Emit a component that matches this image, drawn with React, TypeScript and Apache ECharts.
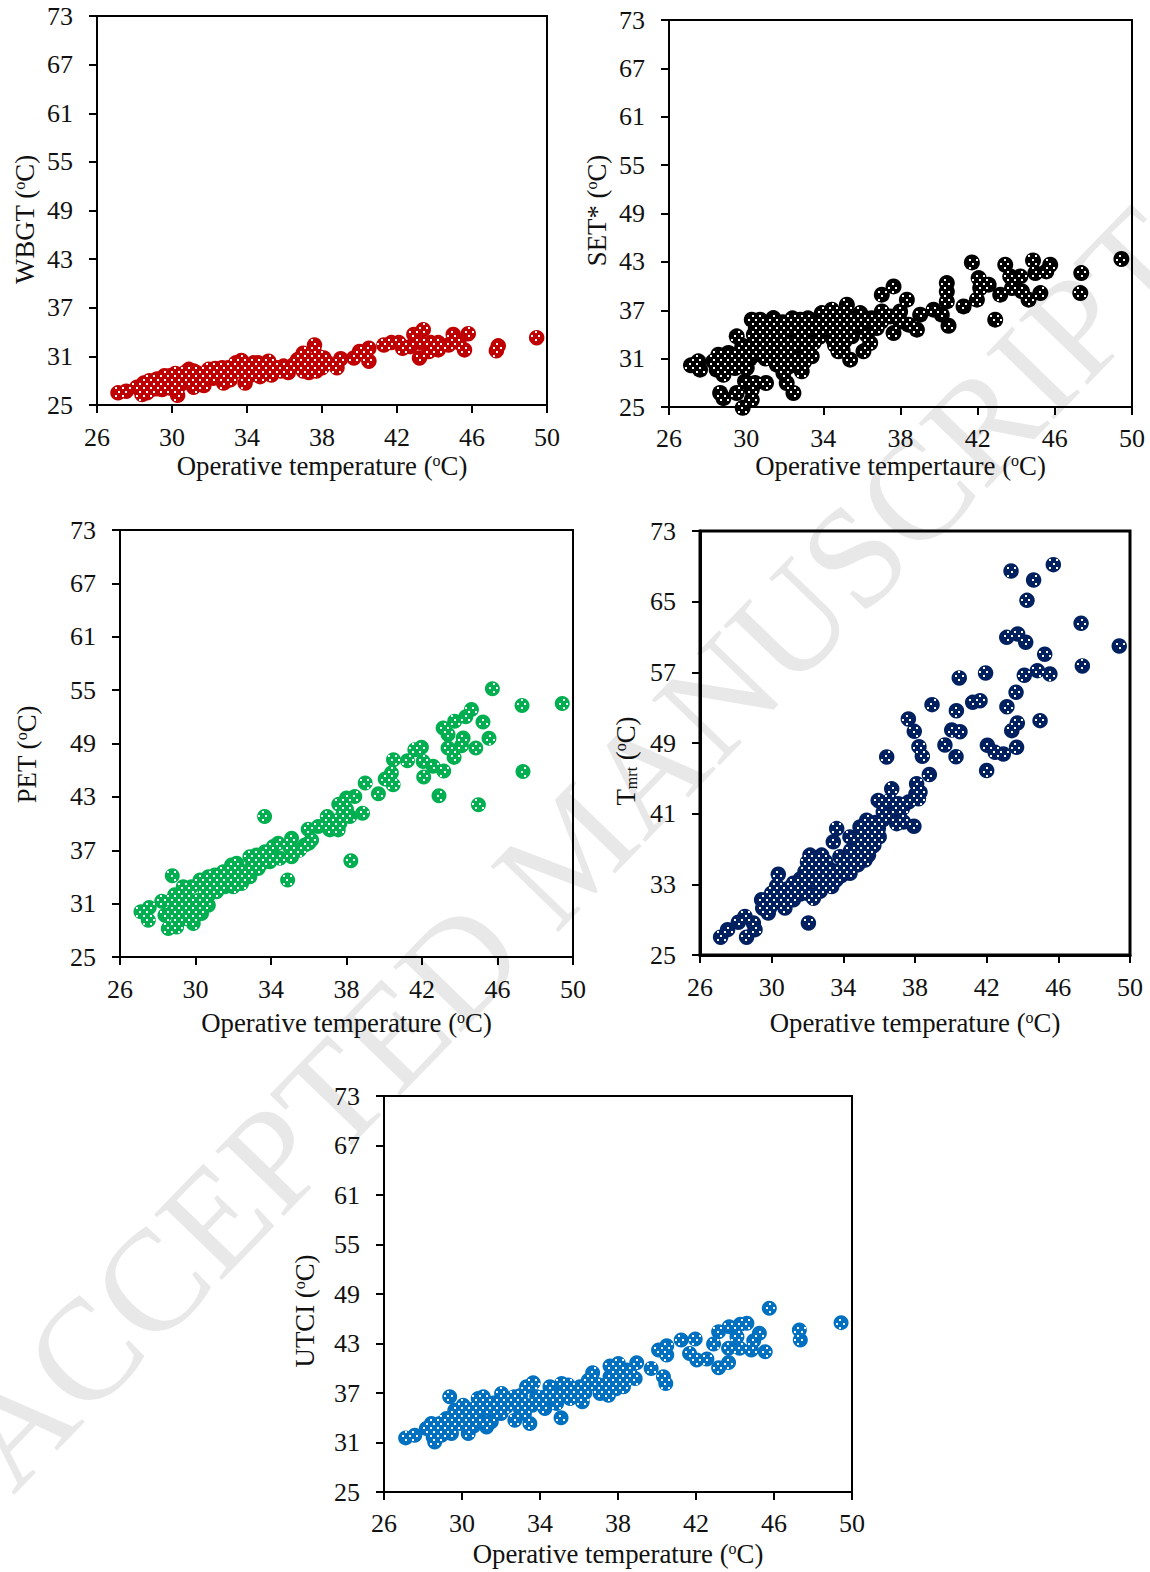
import React, { useEffect, useRef } from "react";
import * as echarts from "echarts";

const xTicks = [26, 30, 34, 38, 42, 46, 50];
const yTicks = [25, 31, 37, 43, 49, 55, 61, 67, 73];
const tmrtTicks = [25, 33, 41, 49, 57, 65, 73];
const xTitle = "{a|Operative temperature (}{s|o}{a|C)}";
const xTitle2 = "{a|Operative tempertaure (}{s|o}{a|C)}";

const wbgtPoints = [
  [27.12,26.5],[27.56,26.7],[28.13,27.2],[28.49,27.7],[28.4,26.3],[28.76,27.5],[28.67,26.5],[29.1,27.7],[29.47,26.9],[29.6,28.6],
  [30,28.1],[30.3,26.2],[30.18,28.9],[29.9,27.1],[30.5,28.5],[30.9,29.4],[31.15,29.2],[30.8,28.1],[31.15,27.2],[31.7,27.4],
  [31.5,28.7],[31.95,29.4],[32.3,29.5],[32.67,29.6],[32.75,27.7],[32.2,28.3],[33.1,28.1],[33,28.7],[33.4,30.2],[33.7,30.5],
  [33.5,29.2],[33.9,27.7],[34.35,30.2],[34.2,28.7],[34.7,28.5],[34.9,29.4],[35.15,30.4],[35.3,29.8],[35.3,28.7],[35.95,29.8],
  [36.2,29],[35.8,29.2],[36.5,30],[36.7,30.6],[37,31.4],[37,29.2],[37.3,29],[37.1,30],[37.6,32.4],[37.8,31],
  [37.7,29.2],[38.1,30.8],[38.3,30.2],[38.8,29.6],[39,30.7],[39.7,30.8],[40,31.6],[40.5,32],[40.5,30.4],[41.3,32.4],
  [41.7,32.7],[42.1,32.7],[42.3,32],[42.7,32.2],[42.9,33.7],[43.4,34.3],[43.2,30.8],[43.25,32.7],[43.7,31.6],[43.8,32.7],
  [44.2,32.7],[44.2,31.8],[44.75,32.4],[45,33.7],[45.3,32.7],[45.6,31.8],[45.8,33.8],[47.4,32.3],[47.3,31.7],[49.45,33.3],
  [29.2,27],[29.4,28],[30.4,27.4],[30.6,27.8],[31,28.6],[31.3,28],[31.8,28.3],[32,28.8],[32.5,28.4],[32.4,29],
  [33.2,29.6],[33.9,29.8],[34,29],[34.5,29.4],[35,29],[35.6,29.6],[36,29.4],[30.2,28],[28.6,27],[28.9,26.9],
  [29.7,27.4],[37.5,29.8],[38,29.6],[37.4,30.4],
  [30.7,29],[31.3,29],[32,29.3],[33,29.6],[34.6,30.2],[36.3,29.6],[29.9,28.6],[28.8,28],[29.2,28.2],
];

const setPoints = [
  [27.14,30.17],[27.52,30.66],[27.61,29.63],[28.3,30.66],[28.56,31.49],[28.47,29.63],[28.82,29],[28.65,26.74],[28.82,26.1],[29.08,31.7],
  [29.51,33.76],[29.42,31.49],[29.42,29.83],[29.51,26.74],[30.03,29.83],[29.94,28.18],[30.29,35.83],[30.2,32.52],[30.46,27.98],[30.72,35.83],
  [30.81,33.35],[30.29,27.15],[30.29,25.9],[29.82,24.9],[31.03,27.98],[31.41,36.03],[31.33,33.55],[30.72,31.49],[31.59,30.25],[31.93,29.21],
  [32.1,27.98],[32.28,35.62],[32.02,31.9],[32.45,26.74],[32.88,29.42],[32.8,35.83],[32.62,33.35],[32.62,30.87],[33.31,35.83],[33.4,31.28],
  [33.14,33.35],[33.92,36.65],[34.44,37.07],[34,34.59],[34.52,33.35],[34.78,31.9],[35.22,37.69],[35.39,30.87],[35.48,33.76],[35.04,35.41],
  [36.08,31.9],[36.43,32.93],[35.91,36.65],[36.25,33.97],[36.77,34.79],[37.03,38.93],[37.64,39.96],[37.03,36.86],[37.64,34.17],[37.46,36.24],
  [38.33,38.31],[37.98,36.86],[38.85,34.59],[38.42,35.21],[39.02,36.45],[39.71,37.07],[40.14,36.45],[40.4,40.37],[40.4,39.34],[40.4,38.1],
  [40.49,35.08],[41.27,37.48],[41.7,42.93],[41.96,38.31],[42.05,40.99],[42.13,39.75],[42.57,40.17],[42.91,35.83],[43.17,38.93],[43.43,42.64],
  [43.69,41.2],[44.21,41.2],[43.78,39.75],[44.3,39.34],[44.64,38.31],[44.87,43.18],[44.99,41.61],[45.25,39.13],[45.56,41.82],[45.76,42.64],
  [47.32,39.13],[47.37,41.61],[49.45,43.35],
  [30.4,34],[31,34.5],[31.5,35],[31,32.5],[31.5,32],[32,33],[32,34.5],[32.5,34.8],[33,34.5],[33,32],
  [32.8,31],[33.6,34.5],[33.8,35.5],[34.5,35.5],[34.5,36],[34.8,34],[35.5,36],[36,35],[36.5,36],[37,35.6],
  [38,35.6],[35.1,33.2],[34.6,32.7],[31.4,31],[31.8,31.2],[29.8,30.2],[28.9,30.7],[29.2,30.3],
  [29.8,32],[30.2,31],[30.6,32.5],[29.9,30.8],[31,31],[31.6,33],[32.3,32.4],[33.5,33],[33.8,33.7],[34.3,34.5],
  [35.4,34.8],[35.7,35.4],[36.2,36],[36.7,35.5],[35,36.5],[34,35.8],[33.2,36],[32.4,36],[31.9,35.5],[30.9,35.2],
  [30.5,34.8],[30.4,33],[29.8,32.6],[32.2,30],[32.8,30.1],[33,30.6],[34.9,32.6],[35,32],
];

const petPoints = [
  [27.11,30.08],[27.55,30.56],[27.5,29.14],[28.21,31.28],[28.38,29.7],[28.56,28.2],[29,28.38],[28.77,34.14],[28.74,31.39],[28.82,30.08],
  [29.35,32.89],[29.26,31.02],[29.44,29.32],[29.88,28.76],[29.79,32.89],[30.24,33.65],[30.15,31.39],[30.32,29.89],[30.68,34.02],[30.68,30.83],
  [31.03,34.21],[31.12,32.33],[31.47,34.59],[31.56,32.89],[31.91,35.34],[32,32.89],[32.18,35.53],[32.44,33.27],[32.88,36.28],[32.88,34.02],
  [33.32,34.96],[33.23,36.47],[33.68,36.84],[33.94,35.71],[33.66,40.79],[34.12,37.41],[34.38,37.78],[34.47,36.09],[34.88,33.65],[35.09,38.35],
  [35.09,36.28],[35.79,37.59],[35.97,39.36],[36.15,38.16],[36.5,39.66],[36.98,40.79],[37.12,39.29],[37.56,39.29],[37.59,42.18],[37.65,40.04],
  [38,42.86],[38.18,40.79],[38.44,43.05],[38.23,35.83],[38.85,41.17],[38.99,44.55],[39.69,43.35],[40.05,45],[40.38,45.68],[40.47,44.36],
  [40.49,47.18],[41.23,47.07],[41.62,48.31],[41.97,48.57],[42.09,45.23],[42.06,46.99],[42.59,46.43],[42.9,43.12],[43.15,45.9],[43.12,50.75],
  [43.38,48.5],[43.38,50],[43.7,47.44],[43.73,51.5],[44.09,48.76],[44.18,49.62],[44.32,52],[44.62,52.82],[44.85,48.5],[44.99,42.11],
  [45.23,51.43],[45.55,49.59],[45.73,55.15],[47.3,53.27],[47.35,45.86],[49.43,53.5],
  [29.7,30.5],[30,30.8],[30.5,32.5],[29.6,31.5],[29.2,30],[31.5,33.6],[32,34.2],[32.5,34.6],[33,35.2],[33.5,35.5],
  [34,36.6],[35,37.3],[35.5,37],[36,37.8],[37.3,40.3],[37.8,41],[38,41.6],[30.9,33.2],
  [28.9,32],[29.3,32],[30.3,31],[30.7,32],[29.1,29],[29.5,30.3],[30,29.6],[30.6,31.5],
];

const tmrtPoints = [
  [43.36,68.47],[44.62,67.45],[45.72,69.19],[44.25,65.15],[47.27,62.55],[43.12,60.96],[43.73,61.34],[44.18,60.4],[45.24,59.04],[49.4,59.98],
  [47.34,57.72],[44.83,57.19],[45.53,56.81],[44.1,56.66],[41.94,56.92],[40.47,56.36],[43.64,54.74],[41.63,53.79],[41.22,53.6],[43.13,53.11],
  [38.95,53.34],[40.31,52.66],[37.63,51.72],[43.71,51.26],[44.98,51.53],[43.4,50.4],[37.96,50.32],[40.05,50.47],[40.51,50.28],[38.22,48.58],
  [39.67,48.77],[42.04,48.74],[43.67,48.51],[42.47,47.94],[42.93,47.75],[36.42,47.42],[38.41,47.49],[40.29,47.45],
  [27.15,27.01],[27.54,27.87],[28.6,27.01],[29.07,27.87],[28.14,28.7],[28.51,29.37],[28.98,28.62],[32.05,28.62],[29.44,31.25],[29.81,29.75],
  [30.37,34.14],[30.28,32.82],[30.09,30.87],[30.74,30.31],[31.21,33.12],[31.21,31.25],[31.86,34.44],[32.14,36.31],[32.79,36.31],[32.33,31.43],
  [33.44,37.81],[33.63,39.31],[33.35,32.75],[34.37,34.25],[33.81,36.12],[34.37,38.37],[35.21,35.75],[35.49,37.06],[35.3,40.25],[34.93,39.5],
  [36,38.37],[35.95,39.31],[35.95,42.5],[36.23,41.19],[36.7,43.81],[36.6,42.5],[36.98,39.87],[37.35,40.06],[37.94,39.57],[37.07,42.13],
  [37.63,42.31],[38.09,44.38],[38.28,43.44],[38.19,42.69],[38.8,45.43],[42,45.88],
  [30.6,32],[30.9,32.5],[31.5,32.5],[31.8,33],[32.3,33.5],[32.6,34.5],[32.9,33.5],[33.1,35],[33.5,34.5],[33.9,34],
  [34.2,36],[34.7,37],[34.8,35.2],[35,36.5],[35.3,38],[35.6,38.8],[32.3,35.2],[31.6,31.9],[30,32],[29.6,30.6],[33,33],
  [31,32],[31.6,33.6],[32,32],[32.4,34.7],[32.7,32.2],[33,35.6],[33.2,34],[33.6,33.5],[34.1,35],[34.4,36.8],
  [34.6,35.8],[35,38],[35.1,37.3],[35.4,36.3],[35.7,37.4],[34.9,38.6],[35.2,39.2],[35.8,40],[36.2,40.3],[36.5,40.7],
  [37.3,41.6],[38.05,43.2],[37,41.5],[29.9,30.4],[30.4,31.6],[29.5,30.3],[31.1,31.9],[31.8,33.8],[32,35.5],[32.5,35.5],
];

const utciPoints = [
  [27.11,31.56],[27.58,31.88],[28.17,32.69],[28.6,31.07],[28.43,33.3],[28.52,31.68],[28.86,33.3],[28.95,31.88],[29.37,36.54],[29.2,33.91],
  [29.46,32.09],[29.63,34.92],[30.06,35.53],[29.89,33.3],[30.32,32.09],[30.23,34.51],[30.83,36.34],[31.09,36.54],[30.74,33.7],[31.26,32.89],
  [31.34,35.12],[32.03,36.94],[31.77,34.51],[32.71,33.7],[32.68,36.54],[32.28,35.32],[33.48,33.3],[33.31,37.75],[33.65,38.24],[33.14,35.73],
  [33.83,36.54],[34.25,35.12],[34.51,37.75],[34.85,35.73],[35.11,38.16],[35.08,33.99],[35.45,37.96],[35.54,36.34],[36.05,37.75],[36.17,35.93],
  [36.7,39.45],[36.48,38.56],[37.08,36.94],[37.51,36.74],[37.59,40.26],[38.02,40.59],[38.28,37.75],[38.45,39.78],[37.59,38.97],[38.88,38.77],
  [38.96,40.67],[39.7,39.98],[40.33,38.97],[40.45,38.16],[40.08,42.21],[40.5,42.73],[40.5,41.6],[41.24,43.42],[41.96,43.54],[41.67,41.8],
  [42.04,41],[42.56,41.11],[42.9,42.94],[43.16,40.06],[43.67,40.71],[43.16,44.43],[43.7,45.04],[43.67,42.41],[44.24,42.41],[44.1,43.83],
  [44.27,45.32],[44.61,45.45],[44.84,42.21],[44.96,43.34],[45.25,44.23],[45.55,42],[45.76,47.27],[47.3,44.64],[47.35,43.42],[49.44,45.53],
  [29,33],[29.3,33],[29.8,34.3],[30.5,35],[31,35],[31.6,35.8],[32,34.5],[32.5,36],[33,36.7],[33.2,34.5],
  [33.6,35.5],[34,36],[34.7,37],[35,36.8],[36.8,38.1],[37.8,38.6],[37.9,37.5],[38.4,38.5],[30.6,33],[31,33.5],
  [35.8,37],[34.2,36.5],
  [28.7,32.5],[29.4,33.5],[30.2,33.5],[30,34.5],[31.5,33.5],[32,35.8],[33,35],[34.5,36.5],[35.5,37],[36.3,37],
  [37,38],[37.4,38],[38,39],[38.6,39.5],
];

const FONT = "Liberation Serif";
const FS = 26;
const NAME_FS = 26.8;

const panels = [
  { pts: wbgtPoints, color: "#C00000", size: 15.5, ticks: yTicks, xName: xTitle, yName: "{a|WBGT (}{s|o}{a|C)}", left: 97, top: 16, right: 547, bottom: 405, gapX: 47, gapY: 59, shiftY: 18, marginX: 19, border: 2 },
  { pts: setPoints, color: "#000000", size: 16, ticks: yTicks, xName: xTitle2, yName: "{a|SET* (}{s|o}{a|C)}", left: 669, top: 20, right: 1132, bottom: 407, gapX: 45, gapY: 59, shiftY: -6, marginX: 18, border: 2 },
  { pts: petPoints, color: "#00B050", size: 15, ticks: yTicks, xName: xTitle, yName: "{a|PET (}{s|o}{a|C)}", left: 120, top: 530, right: 573, bottom: 957, gapX: 52, gapY: 80, shiftY: 22, marginX: 19, border: 2 },
  { pts: tmrtPoints, color: "#002060", size: 15.5, ticks: tmrtTicks, xName: xTitle, yName: "{a|T}{u|mrt}{a| (}{s|o}{a|C)}", left: 700, top: 531, right: 1130, bottom: 955, gapX: 54, gapY: 61, shiftY: 36, marginX: 19, border: 3 },
  { pts: utciPoints, color: "#0070C0", size: 15, ticks: yTicks, xName: xTitle, yName: "{a|UTCI (}{s|o}{a|C)}", left: 384, top: 1096, right: 852, bottom: 1492, gapX: 48.5, gapY: 66, shiftY: 34, marginX: 18, border: 2 },
];

const DOT_DX = 7;
const DOT_DY = 4;
const DOT_R = 6;

function dotsRenderer() {
  const owner = new Map<string, number>();
  return (params: any, api: any) => {
    const c = api.coord([api.value(0), api.value(1)]);
    const children: any[] = [];
    const j0 = Math.ceil((c[1] - DOT_R) / DOT_DY);
    const j1 = Math.floor((c[1] + DOT_R) / DOT_DY);
    for (let j = j0; j <= j1; j++) {
      const off = j % 2 === 0 ? 0 : 3.5;
      const i0 = Math.ceil((c[0] - DOT_R - off) / DOT_DX);
      const i1 = Math.floor((c[0] + DOT_R - off) / DOT_DX);
      for (let i = i0; i <= i1; i++) {
        const px = Math.round(i * DOT_DX + off);
        const py = j * DOT_DY;
        if ((px - c[0]) ** 2 + (py - c[1]) ** 2 > DOT_R * DOT_R) continue;
        const key = px + "," + py;
        const o = owner.get(key);
        if (o !== undefined && o !== params.dataIndex) continue;
        owner.set(key, params.dataIndex);
        children.push({
          type: "rect",
          shape: { x: px - 1, y: py - 1, width: 2, height: 2 },
          style: { fill: "#ffffff" },
          silent: true,
        });
      }
    }
    return { type: "group", children };
  };
}

const rich = {
  a: { fontFamily: FONT, fontSize: NAME_FS, color: "#111" },
  s: { fontFamily: FONT, fontSize: 16, color: "#111", verticalAlign: "top", lineHeight: 22 },
  u: { fontFamily: FONT, fontSize: 16, color: "#111", verticalAlign: "bottom", lineHeight: 26 },
};

function buildOption() {
  const grid: any[] = [];
  const xAxis: any[] = [];
  const yAxis: any[] = [];
  const series: any[] = [];
  panels.forEach((p, i) => {
    grid.push({
      left: p.left, top: p.top, width: p.right - p.left, height: p.bottom - p.top,
      show: true, borderColor: "#000", borderWidth: p.border, backgroundColor: "transparent",
      containLabel: false, z: 2,
    });
    const line = { show: true, onZero: false, lineStyle: { color: "#000", width: p.border } };
    const tick = { show: true, length: 8, inside: false, lineStyle: { color: "#000", width: 2 } };
    const shiftPad = p.shiftY >= 0 ? [0, p.shiftY, 0, 0] : [0, 0, 0, -p.shiftY];
    xAxis.push({
      type: "value", gridIndex: i, min: 26, max: 50, name: p.xName, nameLocation: "middle", nameGap: p.gapX,
      nameTextStyle: { rich }, axisLine: line,
      axisTick: { ...tick, customValues: xTicks },
      axisLabel: { customValues: xTicks, margin: p.marginX, fontFamily: FONT, fontSize: FS, color: "#111", hideOverlap: false, showMinLabel: true, showMaxLabel: true },
      splitLine: { show: false },
    });
    yAxis.push({
      type: "value", gridIndex: i, min: 25, max: 73, name: p.yName, nameLocation: "middle", nameGap: p.gapY,
      nameTextStyle: { rich, padding: shiftPad }, axisLine: line,
      axisTick: { ...tick, customValues: p.ticks },
      axisLabel: { customValues: p.ticks, margin: 24, fontFamily: FONT, fontSize: FS, color: "#111", hideOverlap: false, showMinLabel: true, showMaxLabel: true },
      splitLine: { show: false },
    });
    series.push({
      type: "scatter", xAxisIndex: i, yAxisIndex: i, data: p.pts, symbol: "circle", symbolSize: p.size,
      itemStyle: { color: p.color, opacity: 1 }, clip: false, silent: true, z: 3,
    });
    series.push({
      type: "custom", xAxisIndex: i, yAxisIndex: i, data: p.pts, renderItem: dotsRenderer(),
      encode: { x: 0, y: 1 }, clip: false, silent: true, z: 4,
    });
  });
  return {
    animation: false,
    backgroundColor: "#ffffff",
    grid, xAxis, yAxis, series,
    graphic: [{
      type: "text", x: 572, y: 848, rotation: (46 * Math.PI) / 180, z: -10, zlevel: 0, silent: true,
      style: { text: "ACCEPTED MANUSCRIPT", font: `144px "${FONT}"`, fill: "#e8e8e8", align: "center", verticalAlign: "middle" },
    }],
  };
}

export default function App() {
  const ref = useRef<HTMLDivElement>(null);
  useEffect(() => {
    document.body.style.margin = "0";
    const chart = echarts.init(ref.current!, undefined, { renderer: "svg" });
    chart.setOption(buildOption() as any);
    return () => chart.dispose();
  }, []);
  return <div ref={ref} style={{ position: "fixed", left: 0, top: 0, width: 1150, height: 1572 }} />;
}
